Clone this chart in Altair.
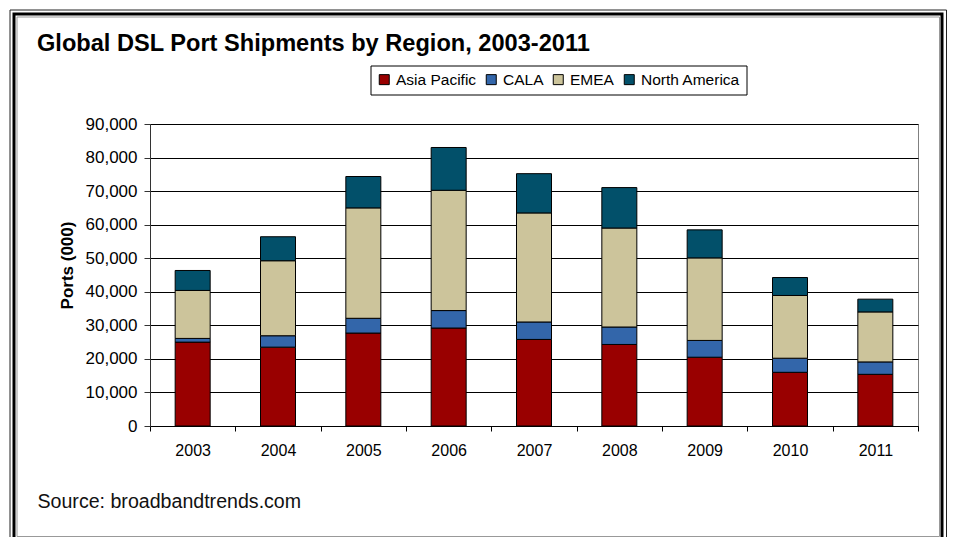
import altair as alt
import pandas as pd

# ---- data ----
years = ["2003", "2004", "2005", "2006", "2007", "2008", "2009", "2010", "2011"]
regions = ["Asia Pacific", "CALA", "EMEA", "North America"]
asia_pacific = [25000, 23500, 27700, 29200, 25800, 24300, 20500, 16000, 15400]
cala = [1100, 3400, 4400, 5200, 5200, 5200, 5000, 4200, 3700]
emea = [14300, 22350, 32900, 35850, 32500, 29500, 24600, 18700, 14900]
north_america = [5950, 7150, 9350, 12750, 11700, 12050, 8350, 5350, 3800]
colors = ["#990000", "#3366AA", "#CCC49B", "#02506A"]
y_ticks = [0, 10000, 20000, 30000, 40000, 50000, 60000, 70000, 80000, 90000]

title_text = "Global DSL Port Shipments by Region, 2003-2011"
source_text = "Source: broadbandtrends.com"
y_title = "Ports (000)"

series = [asia_pacific, cala, emea, north_america]
rows = []
for rank, (region, vals) in enumerate(zip(regions, series)):
    for yr, v in zip(years, vals):
        rows.append({"year": yr, "region": region, "ports": v, "rank": rank})
df = pd.DataFrame(rows)

W, H = 768, 302
FONT = "Liberation Sans, Arial, sans-serif"

one = alt.Data(values=[{}])

# decorative double frame around the whole figure
frame_outer = alt.Chart(one).mark_rect(fill="transparent", stroke="#222222", strokeWidth=1).encode(
    x=alt.value(-140), x2=alt.value(796.5), y=alt.value(-114), y2=alt.value(440))
frame_thick = alt.Chart(one).mark_rect(fill="transparent", stroke="black", strokeWidth=3).encode(
    x=alt.value(-136), x2=alt.value(792), y=alt.value(-110), y2=alt.value(436))
frame_inner = alt.Chart(one).mark_rect(fill="transparent", stroke="#999999", strokeWidth=1).encode(
    x=alt.value(-133), x2=alt.value(789.5), y=alt.value(-107), y2=alt.value(412.5))

title = alt.Chart(alt.Data(values=[{"t": title_text}])).mark_text(
    align="left", baseline="alphabetic", font=FONT, fontSize=23.6, fontWeight="bold", color="black"
).encode(x=alt.value(-113), y=alt.value(-73.5), text="t:N")

bars = alt.Chart(df).mark_bar(size=35, stroke="black", strokeWidth=1).encode(
    x=alt.X("year:N", sort=years,
            scale=alt.Scale(paddingInner=0, paddingOuter=0),
            axis=alt.Axis(labelAngle=0, tickBand="extent", tickSize=5, labelPadding=11,
                          domainColor="black", tickColor="black", labelColor="black",
                          labelFont=FONT, labelFontSize=16, grid=False,
                          title=source_text, titleFont=FONT, titleFontSize=19.6,
                          titleFontWeight="normal", titleColor="#111111",
                          titleX=-113, titleY=81.8, titleAlign="left",
                          titleBaseline="alphabetic")),
    y=alt.Y("ports:Q", stack="zero",
            scale=alt.Scale(domain=[0, 90000], nice=False),
            axis=alt.Axis(values=y_ticks, format=",d", grid=True, gridColor="black",
                          gridWidth=1, domainColor="#333333", tickColor="#333333",
                          tickSize=6, labelPadding=7, labelFont=FONT, labelFontSize=17,
                          labelColor="black", title=y_title, titleFont=FONT,
                          titleFontSize=17, titleFontWeight="bold", titleColor="black",
                          titleAngle=270, titleX=-82.5, titleY=141, titleAlign="center",
                          titleBaseline="middle")),
    color=alt.Color("region:N", sort=regions,
                    scale=alt.Scale(domain=regions, range=colors),
                    legend=alt.Legend(orient="none", legendX=220.5, legendY=-58.5,
                                      direction="horizontal", title=None,
                                      strokeColor="black", fillColor="white", padding=6,
                                      symbolType="square", symbolSize=100,
                                      symbolStrokeColor="black", symbolStrokeWidth=1,
                                      symbolOpacity=1,
                                      labelFont=FONT, labelFontSize=15.5, labelColor="black",
                                      labelOffset=4, columnPadding=7)),
    order=alt.Order("rank:Q", sort="ascending"),
)

chart = alt.layer(frame_outer, frame_thick, frame_inner, title, bars).properties(
    width=W, height=H,
    padding={"left": 1, "top": 1, "right": 0, "bottom": 0},
    background="white",
).configure_view(stroke="#808080", strokeWidth=1)

chart.save("out.html", embed_options={"renderer": "svg", "actions": False})
